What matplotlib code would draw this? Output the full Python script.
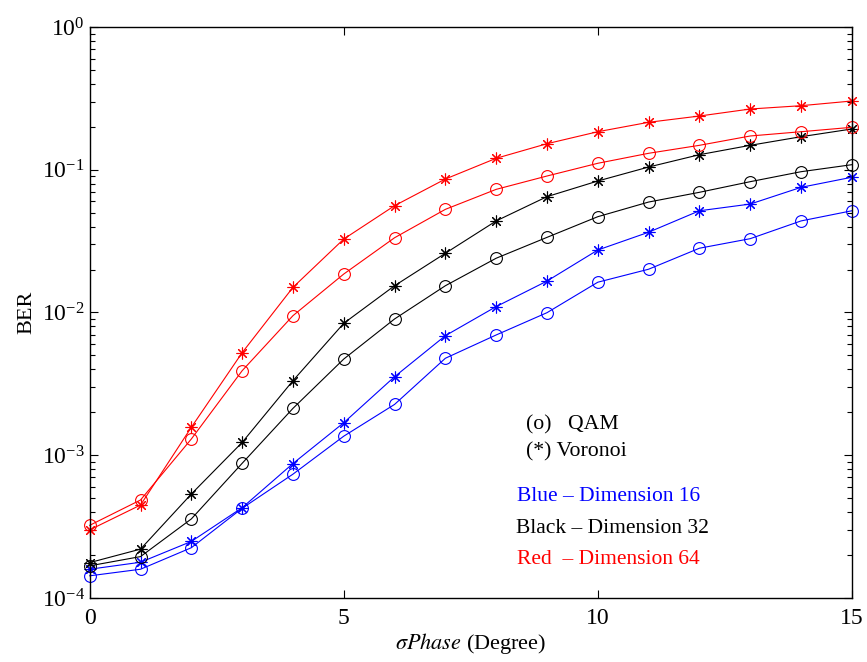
import matplotlib
matplotlib.use("Agg")
import matplotlib.pyplot as plt
from matplotlib.ticker import LogLocator, NullFormatter

plt.rcParams['font.family'] = ['Liberation Serif', 'DejaVu Serif']
plt.rcParams['mathtext.fontset'] = 'stix'

sigma_phase = list(range(16))

# BER versus phase noise standard deviation (degrees)
qam_16 = [1.43e-4, 1.59e-4, 2.25e-4, 4.25e-4, 7.37e-4, 1.36e-3, 2.27e-3, 4.78e-3,
          6.96e-3, 9.97e-3, 1.63e-2, 2.01e-2, 2.82e-2, 3.29e-2, 4.38e-2, 5.16e-2]
vor_16 = [1.59e-4, 1.78e-4, 2.49e-4, 4.29e-4, 8.75e-4, 1.69e-3, 3.55e-3, 6.88e-3,
          1.10e-2, 1.66e-2, 2.74e-2, 3.65e-2, 5.16e-2, 5.75e-2, 7.53e-2, 8.86e-2]
qam_32 = [1.68e-4, 1.95e-4, 3.58e-4, 8.78e-4, 2.13e-3, 4.72e-3, 9.01e-3, 1.54e-2,
          2.40e-2, 3.36e-2, 4.69e-2, 5.94e-2, 6.95e-2, 8.25e-2, 9.69e-2, 1.085e-1]
vor_32 = [1.77e-4, 2.20e-4, 5.35e-4, 1.23e-3, 3.33e-3, 8.40e-3, 1.54e-2, 2.60e-2,
          4.38e-2, 6.48e-2, 8.34e-2, 1.045e-1, 1.275e-1, 1.483e-1, 1.704e-1, 1.93e-1]
qam_64 = [3.23e-4, 4.86e-4, 1.30e-3, 3.91e-3, 9.50e-3, 1.86e-2, 3.34e-2, 5.28e-2,
          7.29e-2, 9.04e-2, 1.11e-1, 1.304e-1, 1.483e-1, 1.724e-1, 1.847e-1, 1.983e-1]
vor_64 = [3.00e-4, 4.48e-4, 1.57e-3, 5.23e-3, 1.50e-2, 3.27e-2, 5.60e-2, 8.61e-2,
          1.203e-1, 1.522e-1, 1.847e-1, 2.15e-1, 2.379e-1, 2.664e-1, 2.81e-1, 3.031e-1]

series = [
    (qam_16, 'blue', 'o'), (vor_16, 'blue', '*'),
    (qam_32, 'black', 'o'), (vor_32, 'black', '*'),
    (qam_64, 'red', 'o'), (vor_64, 'red', '*'),
]

fig = plt.figure(figsize=(8.67, 6.62), dpi=100)
ax = fig.add_axes([0.1035, 0.0967, 0.879, 0.8625])

asterisk = (8, 2, 0)
for values, color, kind in series:
    if kind == 'o':
        ax.plot(sigma_phase, values, color=color, lw=0.8, marker='o', clip_on=False,
                markersize=8.5, markerfacecolor='none', markeredgewidth=0.8)
    else:
        ax.plot(sigma_phase, values, color=color, lw=0.8, marker=asterisk, clip_on=False,
                markersize=8.5, markeredgewidth=0.8)

ax.set_yscale('log')
ax.set_xlim(0, 15)
ax.set_ylim(1e-4, 1)
ax.set_xticks([0, 5, 10, 15])
ax.yaxis.set_major_locator(LogLocator(base=10, numticks=10))
ax.yaxis.set_minor_locator(LogLocator(base=10, subs=range(2, 10), numticks=20))
ax.yaxis.set_minor_formatter(NullFormatter())
ax.tick_params(which='both', direction='in', top=True, right=True, labelsize=17, width=0.8)
ax.tick_params(which='major', length=6)
ax.tick_params(which='minor', length=3.5)
ax.tick_params(axis='x', pad=7)
for s in ax.spines.values():
    s.set_linewidth(1.0)

ax.set_xlabel(r'$\sigma Phase$ (Degree)', fontsize=16, labelpad=2)
ax.set_ylabel('BER', fontsize=16, labelpad=4)

ax.text(0.572, 0.303, '(o)   QAM', transform=ax.transAxes, fontsize=15.7, va='center', ha='left')
ax.text(0.572, 0.256, '(*) Voronoi', transform=ax.transAxes, fontsize=15.7, va='center', ha='left')
ax.text(0.561, 0.177, 'Blue \u2013 Dimension 16', transform=ax.transAxes, fontsize=15.5,
        va='center', ha='left', color='blue')
ax.text(0.559, 0.121, 'Black \u2013 Dimension 32', transform=ax.transAxes, fontsize=15.5,
        va='center', ha='left', color='black')
ax.text(0.561, 0.068, 'Red  \u2013 Dimension 64', transform=ax.transAxes, fontsize=15.5,
        va='center', ha='left', color='red')

fig.savefig('out.png', dpi=100)
